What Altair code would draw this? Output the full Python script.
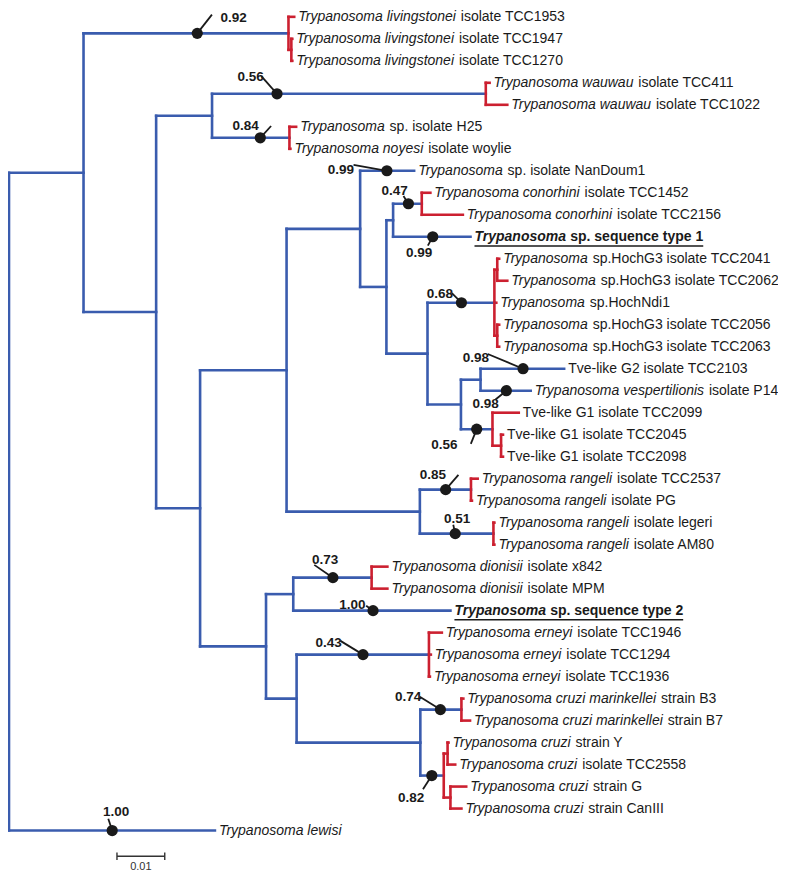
import altair as alt
import pandas as pd

FONT = "Liberation Sans"
BLUE = "#3a5cae"
RED = "#cc2030"
INK = "#1a1a1a"

# ---------------- leaves (top to bottom) ----------------
leaf_italic = [
    "Trypanosoma livingstonei", "Trypanosoma livingstonei", "Trypanosoma livingstonei",
    "Trypanosoma wauwau", "Trypanosoma wauwau",
    "Trypanosoma", "Trypanosoma noyesi",
    "Trypanosoma",
    "Trypanosoma conorhini", "Trypanosoma conorhini",
    "Trypanosoma",
    "Trypanosoma", "Trypanosoma", "Trypanosoma", "Trypanosoma", "Trypanosoma",
    "", "Trypanosoma vespertilionis", "", "", "",
    "Trypanosoma rangeli", "Trypanosoma rangeli", "Trypanosoma rangeli", "Trypanosoma rangeli",
    "Trypanosoma dionisii", "Trypanosoma dionisii",
    "Trypanosoma",
    "Trypanosoma erneyi", "Trypanosoma erneyi", "Trypanosoma erneyi",
    "Trypanosoma cruzi marinkellei", "Trypanosoma cruzi marinkellei",
    "Trypanosoma cruzi", "Trypanosoma cruzi", "Trypanosoma cruzi", "Trypanosoma cruzi",
    "Trypanosoma lewisi",
]
leaf_rest = [
    " isolate TCC1953", " isolate TCC1947", " isolate TCC1270",
    " isolate TCC411", " isolate TCC1022",
    " sp. isolate H25", " isolate woylie",
    " sp. isolate NanDoum1",
    " isolate TCC1452", " isolate TCC2156",
    " sp. sequence type 1",
    " sp.HochG3 isolate TCC2041", " sp.HochG3 isolate TCC2062", " sp.HochNdi1",
    " sp.HochG3 isolate TCC2056", " sp.HochG3 isolate TCC2063",
    "Tve-like G2 isolate TCC2103", " isolate P14", "Tve-like G1 isolate TCC2099",
    "Tve-like G1 isolate TCC2045", "Tve-like G1 isolate TCC2098",
    " isolate TCC2537", " isolate PG", " isolate legeri", " isolate AM80",
    " isolate x842", " isolate MPM",
    " sp. sequence type 2",
    " isolate TCC1946", " isolate TCC1294", " isolate TCC1936",
    " strain B3", " strain B7",
    " strain Y", " isolate TCC2558", " strain G", " strain CanIII",
    "",
]
leaf_bold = [10, 27]
leaf_parent = [
    "LV", "L2", "L2", "W", "W", "N", "N", "S", "CON", "CON", "CS",
    "H1", "H1", "H", "H2", "H2", "G2V", "G2V", "G1", "G1s", "G1s",
    "R1", "R1", "R2", "R2", "DIO", "DIO", "D", "ERN", "ERN", "ERN",
    "CM", "CM", "C1", "C1", "C2", "C2", "ROOT",
]
leaf_bl = [
    0.0012, 0.0002, 0.0002, 0.0008, 0.0045, 0.0014, 0.0002, 0.0113, 0.0018, 0.0086, 0.0162,
    0.0004, 0.0021, 0.0004, 0.0004, 0.0004, 0.0175, 0.0105, 0.0055, 0.0004, 0.0004,
    0.0014, 0.0002, 0.0002, 0.0002, 0.0033, 0.0033, 0.0329, 0.0027, 0.0004, 0.0002,
    0.0004, 0.0018, 0.0002, 0.0016, 0.0033, 0.0023, 0.0431,
]

# ---------------- internal nodes ----------------
node_ids = ["A", "LV", "L2", "B", "WN", "W", "N", "V", "U", "S", "P", "CS", "CON", "Q",
            "H", "H1", "H2", "T", "G2V", "G1", "G1s", "RAN", "R1", "R2", "X", "D", "DIO",
            "E", "ERN", "CC", "CM", "C0", "C1", "C2"]
node_parent = ["ROOT", "A", "LV", "A", "B", "WN", "WN", "B", "V", "U", "S", "P", "CS", "P",
               "Q", "H", "H", "Q", "T", "T", "G1", "U", "RAN", "RAN", "V", "X", "D",
               "X", "E", "E", "CC", "CC", "C0", "C0"]
node_bl = [0.0156, 0.0429, 0.0006, 0.0152, 0.0117, 0.0573, 0.0162, 0.0092, 0.0181, 0.0154,
           0.0055, 0.0014, 0.0060, 0.0086, 0.0140, 0.0006, 0.0006, 0.0070, 0.0041, 0.0066,
           0.0018, 0.0279, 0.0107, 0.0154, 0.0138, 0.0057, 0.0164, 0.0064, 0.0277, 0.0259,
           0.0086, 0.0049, 0.0008, 0.0014]
red_clades = ["LV", "W", "N", "CON", "H", "G1", "R1", "R2", "DIO", "ERN", "CM", "C0"]

# ---------------- posterior support ----------------
sup_target = ["LV", "W", "N", "t7", "CON", "t10", "H", "t16", "t17", "G1", "R1", "R2",
              "DIO", "t27", "ERN", "CM", "C0", "t37"]
sup_value = ["0.92", "0.56", "0.84", "0.99", "0.47", "0.99", "0.68", "0.98", "0.98", "0.56",
             "0.85", "0.51", "0.73", "1.00", "0.43", "0.74", "0.82", "1.00"]
sup_pos = [0.0394, 0.0561, 0.0526, 0.0791, 0.0836, 0.0887, 0.0947, 0.1076, 0.1041, 0.0979,
           0.0914, 0.0934, 0.0678, 0.0762, 0.0741, 0.0903, 0.0885, 0.0216]
lab_dx = [37, -27, -15, -47, -14, -14, -22, -48, -21, -33, -13, 2, -8, -21, -35, -33, -21, 4]
lab_dy = [-16, -17, -12, -1, -13, 17, -9, -11, 14, 16, -15, -15, -18, -6, -12, -13, 23, -19]
lead_dx = [15, -16, 11, -34, -5, -5, -10, -36, -11, -6, 13, -2, -19, -7, -23, -21, -9, -4]
lead_dy = [-19, -18, -12, -6, -8, 9, -10, -15, 9, 15, -15, -9, -13, -5, -14, -13, 14, -12]

scale_start = 0.0226
scale_len = 0.01
scale_label = "0.01"

# ---------------- geometry helpers ----------------
IMG_PXU = 4870.0          # reference pixels per substitution unit
IMG_ROW = 22.4            # reference pixels per leaf row
W, H = 770, 863
PXU = IMG_PXU * 0.981
XDOM = [-1 / PXU, (W - 1) / PXU]
YDOM = [-9 / IMG_ROW, 870 / IMG_ROW]

parent, blen = {}, {}
for i in range(len(leaf_parent)):
    parent[f"t{i}"] = leaf_parent[i]
    blen[f"t{i}"] = leaf_bl[i]
for n, p, b in zip(node_ids, node_parent, node_bl):
    parent[n] = p
    blen[n] = b
children = {}
for c, p in parent.items():
    children.setdefault(p, []).append(c)

xpos = {"ROOT": 0.0}


def get_x(n):
    if n not in xpos:
        xpos[n] = get_x(parent[n]) + blen[n]
    return xpos[n]


ypos = {f"t{i}": float(i) for i in range(len(leaf_parent))}


def get_y(n):
    if n not in ypos:
        ys = [get_y(c) for c in children[n]]
        ypos[n] = (min(ys) + max(ys)) / 2
    return ypos[n]


for n in parent:
    get_x(n)
get_y("ROOT")

red = set()


def mark_red(n):
    red.add(n)
    for c in children.get(n, []):
        mark_red(c)


for r in red_clades:
    mark_red(r)

segs = []
for n, p in parent.items():
    segs.append(dict(x=xpos[p], x2=xpos[n], y=ypos[n], y2=ypos[n],
                     col=RED if p in red else BLUE))
for n, ch in children.items():
    ys = [ypos[c] for c in ch]
    segs.append(dict(x=xpos[n], x2=xpos[n], y=min(ys), y2=max(ys),
                     col=RED if n in red else BLUE))
seg_df = pd.DataFrame(segs)

# text widths (Arial / Liberation Sans metrics, per 1000 em)
_lc = "abcdefghijklmnopqrstuvwxyz"
_uc = "ABCDEFGHIJKLMNOPQRSTUVWXYZ"
REG = dict(zip(_lc, [556, 556, 500, 556, 556, 278, 556, 556, 222, 222, 500, 222, 833, 556, 556,
                     556, 556, 333, 500, 278, 556, 500, 722, 500, 500, 500]))
REG.update(zip(_uc, [667, 667, 722, 722, 667, 611, 778, 722, 278, 500, 667, 556, 833, 722, 778,
                     667, 778, 722, 667, 611, 722, 667, 944, 667, 667, 611]))
BOLD = dict(zip(_lc, [556, 611, 556, 611, 556, 333, 611, 611, 278, 278, 556, 278, 889, 611, 611,
                      611, 611, 389, 556, 333, 611, 556, 778, 556, 556, 500]))
BOLD.update(zip(_uc, [722, 722, 722, 722, 667, 611, 778, 722, 278, 556, 722, 611, 833, 722, 778,
                      667, 778, 722, 667, 611, 722, 667, 944, 667, 667, 611]))
for tbl in (REG, BOLD):
    tbl.update({c: 556 for c in "0123456789"})
    tbl.update({".": 278, " ": 278, "-": 333})

FS = 14
DX = 4


def tw(s, bold=False):
    t = BOLD if bold else REG
    return sum(t.get(c, 556) for c in s) * FS / 1000.0


lab_rows, ul_rows = [], []
for i in range(len(leaf_parent)):
    tip = xpos[f"t{i}"]
    b = i in leaf_bold
    it, rest = leaf_italic[i], leaf_rest[i]
    off = tw(it, b)
    if rest.startswith(" "):
        off += tw(" ", b)
        rest = rest[1:]
    if it:
        lab_rows.append(dict(x=tip, y=float(i), text=it, kind="bi" if b else "i"))
    if rest:
        lab_rows.append(dict(x=tip + off / PXU, y=float(i), text=rest, kind="b" if b else "n"))
    if b:
        total = off + tw(rest, True)
        ul_rows.append(dict(x=tip + DX / PXU, x2=tip + (DX + total) / PXU, y=i + 0.42))
lab_df = pd.DataFrame(lab_rows)
ul_df = pd.DataFrame(ul_rows)

sup_rows, lead_rows = [], []
for k, t in enumerate(sup_target):
    cy = ypos[t]
    cx = sup_pos[k]
    sup_rows.append(dict(cx=cx, cy=cy, lx=cx + lab_dx[k] / IMG_PXU, ly=cy + lab_dy[k] / IMG_ROW,
                         text=sup_value[k]))
    lead_rows.append(dict(x=cx, x2=cx + lead_dx[k] / IMG_PXU, y=cy, y2=cy + lead_dy[k] / IMG_ROW))
sup_df = pd.DataFrame(sup_rows)
lead_df = pd.DataFrame(lead_rows)

bar_y = (862 - 7) / IMG_ROW
sb_df = pd.DataFrame([
    dict(x=scale_start, x2=scale_start + scale_len, y=bar_y, y2=bar_y),
    dict(x=scale_start, x2=scale_start, y=bar_y - 0.17, y2=bar_y + 0.17),
    dict(x=scale_start + scale_len, x2=scale_start + scale_len, y=bar_y - 0.17, y2=bar_y + 0.17),
])
sbl_df = pd.DataFrame([dict(x=scale_start + scale_len / 2, y=bar_y + 0.47, text=scale_label)])

XS = alt.Scale(domain=XDOM, nice=False, zero=False)
YS = alt.Scale(domain=YDOM, nice=False, zero=False, reverse=True)


def X(f):
    return alt.X(f"{f}:Q", scale=XS, axis=None)


def Y(f):
    return alt.Y(f"{f}:Q", scale=YS, axis=None)


tree = alt.Chart(seg_df).mark_rule(strokeWidth=2.6, strokeCap="square").encode(
    x=X("x"), x2="x2", y=Y("y"), y2="y2", color=alt.Color("col:N", scale=None))

def text_layer(kind, style, weight):
    return alt.Chart(lab_df).transform_filter(alt.datum.kind == kind).mark_text(
        align="left", baseline="middle", dx=DX, font=FONT, fontSize=FS,
        fontStyle=style, fontWeight=weight, color=INK).encode(
        x=X("x"), y=Y("y"), text="text:N")

t_i = text_layer("i", "italic", "normal")
t_n = text_layer("n", "normal", "normal")
t_bi = text_layer("bi", "italic", "bold")
t_b = text_layer("b", "normal", "bold")

underline = alt.Chart(ul_df).mark_rule(strokeWidth=1.5, color=INK).encode(
    x=X("x"), x2="x2", y=Y("y"))

leads = alt.Chart(lead_df).mark_rule(strokeWidth=1.8, color=INK).encode(
    x=X("x"), x2="x2", y=Y("y"), y2="y2")
dots = alt.Chart(sup_df).mark_point(filled=True, size=125, color=INK, opacity=1).encode(
    x=X("cx"), y=Y("cy"))
sup_txt = alt.Chart(sup_df).mark_text(
    align="center", baseline="middle", font=FONT, fontSize=13.5, fontWeight="bold",
    color=INK).encode(x=X("lx"), y=Y("ly"), text="text:N")

sbar = alt.Chart(sb_df).mark_rule(strokeWidth=1.4, color="#333333").encode(
    x=X("x"), x2="x2", y=Y("y"), y2="y2")
sbar_txt = alt.Chart(sbl_df).mark_text(
    align="center", baseline="middle", font=FONT, fontSize=11, color="#333333").encode(
    x=X("x"), y=Y("y"), text="text:N")

chart = alt.layer(tree, leads, dots, sup_txt, t_i, t_n, t_bi, t_b, underline, sbar, sbar_txt).properties(
    width=W, height=H, autosize=alt.AutoSizeParams(type="none"), padding=0
).configure_view(stroke=None)

chart.save("out.html", embed_options={"renderer": "svg", "actions": False})
